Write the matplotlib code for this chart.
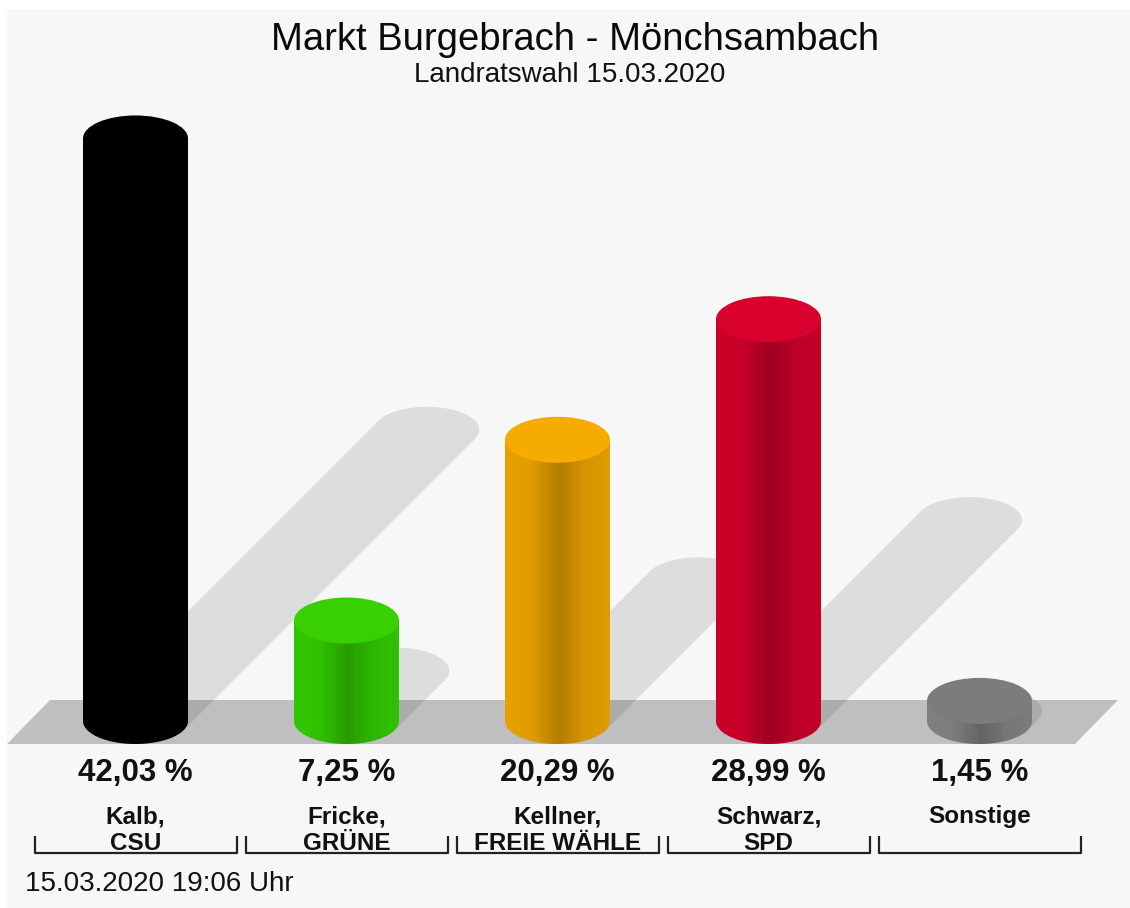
import numpy as np
import matplotlib.pyplot as plt
from matplotlib.patches import Polygon, Ellipse, Rectangle
from matplotlib.colors import to_rgb

plt.rcParams['font.family'] = ['Liberation Sans', 'DejaVu Sans']

# Election results
candidates = ['Kalb,\nCSU', 'Fricke,\nGRÜNE', 'Kellner,\nFREIE WÄHLE', 'Schwarz,\nSPD', 'Sonstige']
shares = [42.03, 7.25, 20.29, 28.99, 1.45]
body_colors = ['#000000', '#33cc00', '#eca400', '#d0002a', '#838383']
cap_colors = ['#000000', '#38d000', '#f5ab00', '#d8002c', '#7c7c7c']

title = 'Markt Burgebrach - Mönchsambach'
subtitle = 'Landratswahl 15.03.2020'
timestamp = '15.03.2020 19:06 Uhr'

W, H = 1130, 908
fig = plt.figure(figsize=(W / 100, H / 100), dpi=100)
ax = fig.add_axes([0, 0, 1, 1])
ax.set_xlim(0, W)
ax.set_ylim(H, 0)
ax.axis('off')

# light panel background
ax.add_patch(Rectangle((7, 9), W - 7, H - 9, facecolor='#f7f7f7', edgecolor='none', zorder=0))

# floor band
ax.add_patch(Polygon([(7, 744), (50, 700), (1118, 700), (1075, 744)],
                     closed=True, facecolor='#bfbfbf', edgecolor='none', zorder=1))

px_per_pct = 13.86
base_y = 721
a, b = 52.5, 23
x0, step = 135.5, 211

# brightness across the cylinder (left -> right)
prof_u = [0.0, 0.25, 0.52, 0.75, 1.0]
prof_v = [0.98, 0.95, 0.76, 0.9, 0.95]

for i, (val, bc, cc) in enumerate(zip(shares, body_colors, cap_colors)):
    cx = x0 + step * i
    h = val * px_per_pct
    top_y = base_y - h

    # cast shadow going up to the right
    s = 0.5 * h
    phi = np.arctan2(a, b)
    t1 = np.linspace(-np.pi / 2 - phi, np.pi / 2 - phi, 60)
    t2 = np.linspace(np.pi / 2 - phi, 3 * np.pi / 2 - phi, 60)
    shx = np.concatenate([cx + s + a * np.cos(t1), cx + a * np.cos(t2)])
    shy = np.concatenate([base_y - s + b * np.sin(t1), base_y + b * np.sin(t2)])
    ax.add_patch(Polygon(np.column_stack([shx, shy]), closed=True,
                         facecolor='black', alpha=0.1, edgecolor='none', zorder=2))

    # cylinder body with horizontal shading
    tb = np.linspace(0, np.pi, 60)
    bx = np.concatenate([[cx - a], cx - a * np.cos(tb), [cx + a]])
    by = np.concatenate([[top_y], base_y + b * np.sin(tb), [top_y]])
    body = Polygon(np.column_stack([bx, by]), closed=True, facecolor='none',
                   edgecolor='none', zorder=3)
    ax.add_patch(body)
    u = np.linspace(0, 1, 256)
    shade = np.interp(u, prof_u, prof_v)
    rgb = np.clip(np.array(to_rgb(bc))[None, :] * shade[:, None], 0, 1)
    img = np.repeat(rgb[None, :, :], 2, axis=0)
    im = ax.imshow(img, extent=[cx - a, cx + a, base_y + b, top_y], aspect='auto',
                   interpolation='bilinear', zorder=3)
    im.set_clip_path(body)

    # cap
    ax.add_patch(Ellipse((cx, top_y), 2 * a, 2 * b, facecolor=cc, edgecolor='none', zorder=4))

    # labels
    ax.text(cx, 773, f'{val:.2f} %'.replace('.', ','), ha='center', va='center',
            fontsize=22.5, fontweight='bold', color='#111111', zorder=5)
    for k, line in enumerate(candidates[i].split('\n')):
        ax.text(cx, 817 + 26 * k, line, ha='center', va='center', fontsize=17.5,
                fontweight='bold', color='#111111', zorder=5)

    # bracket under each label
    bl, br = cx - 100.5, cx + 101.5
    ax.plot([bl, bl, br, br], [836, 853, 853, 836], color='#222222', lw=1.6,
            solid_capstyle='butt', zorder=5)

ax.set_xlim(0, W)
ax.set_ylim(H, 0)

ax.text(575, 40, title, ha='center', va='center', fontsize=27.5, color='#0a0a0a')
ax.text(570, 75, subtitle, ha='center', va='center', fontsize=20, color='#111111')
ax.text(25, 884, timestamp, ha='left', va='center', fontsize=20, color='#111111')

fig.savefig('out.png', dpi=100, facecolor='white')
